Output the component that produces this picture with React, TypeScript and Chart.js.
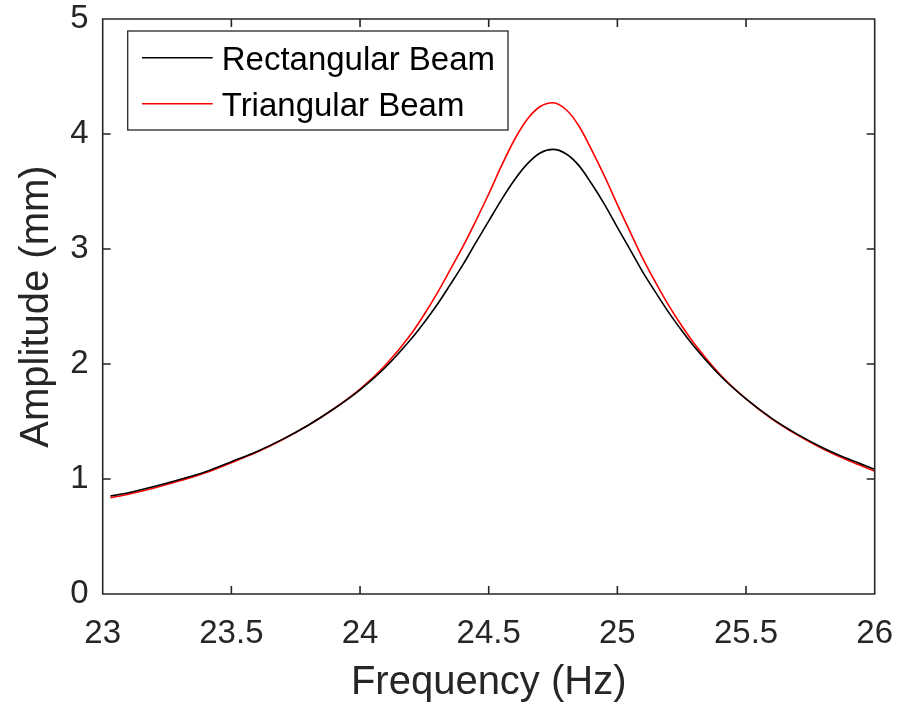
import React, { useEffect, useRef } from "react";
import { Chart, registerables } from "chart.js";

Chart.register(...registerables);

const frequencies = [
  23.03, 23.1, 23.2, 23.3, 23.4, 23.5, 23.6, 23.7, 23.8, 23.9, 24.0, 24.1, 24.2, 24.25,
  24.3, 24.35, 24.4, 24.45, 24.5, 24.55, 24.6, 24.65, 24.7, 24.75, 24.8, 24.85, 24.9,
  24.95, 25.0, 25.05, 25.1, 25.15, 25.2, 25.25, 25.3, 25.4, 25.5, 25.6, 25.7, 25.8, 25.9, 26.0,
];

const rectangularBeam = [
  0.852, 0.881, 0.934, 0.995, 1.063, 1.15, 1.24, 1.347, 1.47, 1.613, 1.776, 1.974, 2.221, 2.363,
  2.517, 2.688, 2.864, 3.055, 3.243, 3.43, 3.6, 3.74, 3.835, 3.866, 3.828, 3.727, 3.567,
  3.388, 3.188, 2.992, 2.795, 2.618, 2.447, 2.292, 2.148, 1.898, 1.696, 1.527, 1.388, 1.27, 1.171, 1.085,
];

const triangularBeam = [
  0.838, 0.868, 0.922, 0.985, 1.054, 1.142, 1.234, 1.343, 1.468, 1.613, 1.781, 1.994, 2.266, 2.433,
  2.617, 2.818, 3.022, 3.245, 3.478, 3.725, 3.95, 4.128, 4.239, 4.272, 4.213, 4.072, 3.862,
  3.633, 3.386, 3.147, 2.912, 2.703, 2.507, 2.332, 2.173, 1.906, 1.696, 1.523, 1.381, 1.26, 1.158, 1.069,
];

const seriesLabels = ["Rectangular Beam", "Triangular Beam"];
const seriesColors = ["#000000", "#ff0000"];

const xTitle = "Frequency (Hz)";
const yTitle = "Amplitude (mm)";

const FONT = "'Liberation Sans', Arial, Helvetica, sans-serif";
const AXIS_COLOR = "#262626";

const boxAndTicks = {
  id: "boxAndTicks",
  afterDatasetsDraw(chart: any) {
    const { ctx, chartArea } = chart;
    const { left, right, top, bottom } = chartArea;
    const xs = chart.scales.x;
    const ys = chart.scales.y;
    const tl = 8;
    ctx.save();
    ctx.strokeStyle = AXIS_COLOR;
    ctx.lineWidth = 1.6;
    ctx.beginPath();
    ctx.rect(left, top, right - left, bottom - top);
    xs.ticks.forEach((t: any) => {
      const px = xs.getPixelForValue(t.value);
      ctx.moveTo(px, bottom);
      ctx.lineTo(px, bottom - tl);
      ctx.moveTo(px, top);
      ctx.lineTo(px, top + tl);
    });
    ys.ticks.forEach((t: any) => {
      const py = ys.getPixelForValue(t.value);
      ctx.moveTo(left, py);
      ctx.lineTo(left + tl, py);
      ctx.moveTo(right, py);
      ctx.lineTo(right - tl, py);
    });
    ctx.stroke();
    ctx.restore();
  },
};

const insideLegend = {
  id: "insideLegend",
  afterDraw(chart: any) {
    const { ctx } = chart;
    const bx = 127.7;
    const by = 31;
    const bw = 380.3;
    const bh = 99;
    ctx.save();
    ctx.fillStyle = "#ffffff";
    ctx.fillRect(bx, by, bw, bh);
    ctx.strokeStyle = AXIS_COLOR;
    ctx.lineWidth = 1.3;
    ctx.strokeRect(bx, by, bw, bh);
    const rows = [57.7, 103.7];
    chart.data.datasets.forEach((ds: any, i: number) => {
      const y = rows[i];
      ctx.strokeStyle = ds.borderColor;
      ctx.lineWidth = 1.6;
      ctx.beginPath();
      ctx.moveTo(142, y);
      ctx.lineTo(212.7, y);
      ctx.stroke();
      ctx.fillStyle = "#000000";
      ctx.font = `33px ${FONT}`;
      ctx.textBaseline = "alphabetic";
      ctx.textAlign = "left";
      ctx.fillText(ds.label, 221.7, y + 12.7);
    });
    ctx.restore();
  },
};

const zeroPad = (scale: any) => {
  scale.paddingTop = 0;
  scale.paddingBottom = 0;
  scale.paddingLeft = 0;
  scale.paddingRight = 0;
};

export default function App() {
  const canvasRef = useRef<HTMLCanvasElement | null>(null);

  useEffect(() => {
    if (!canvasRef.current) return;
    const makeData = (vals: number[]) => frequencies.map((f, i) => ({ x: f, y: vals[i] }));
    const chart = new Chart(canvasRef.current, {
      type: "line",
      data: {
        datasets: [
          {
            label: seriesLabels[0],
            data: makeData(rectangularBeam),
            borderColor: seriesColors[0],
            backgroundColor: seriesColors[0],
            borderWidth: 1.6,
            pointRadius: 0,
            cubicInterpolationMode: "monotone",
          },
          {
            label: seriesLabels[1],
            data: makeData(triangularBeam),
            borderColor: seriesColors[1],
            backgroundColor: seriesColors[1],
            borderWidth: 1.6,
            pointRadius: 0,
            cubicInterpolationMode: "monotone",
          },
        ],
      },
      options: {
        animation: false,
        responsive: false,
        devicePixelRatio: 1,
        layout: { padding: { top: 19, right: 27.3, left: 0, bottom: 0 } },
        plugins: {
          legend: { display: false },
          tooltip: { enabled: false },
        },
        scales: {
          x: {
            type: "linear",
            min: 23,
            max: 26,
            grid: { display: false, drawTicks: false },
            border: { display: false },
            ticks: {
              stepSize: 0.5,
              color: AXIS_COLOR,
              font: { family: FONT, size: 33 },
              padding: 20,
              maxRotation: 0,
              autoSkip: false,
              callback: (v: any) => String(Number(v)),
            },
            title: {
              display: true,
              text: xTitle,
              color: AXIS_COLOR,
              font: { family: FONT, size: 40 },
              padding: { top: 0, bottom: 1 },
            },
            afterFit: (scale: any) => {
              scale.height = 114;
              zeroPad(scale);
            },
          },
          y: {
            type: "linear",
            min: 0,
            max: 5,
            grid: { display: false, drawTicks: false },
            border: { display: false },
            ticks: {
              stepSize: 1,
              color: AXIS_COLOR,
              font: { family: FONT, size: 33 },
              padding: 14,
              callback: (v: any) => String(Number(v)),
            },
            title: {
              display: true,
              text: yTitle,
              color: AXIS_COLOR,
              font: { family: FONT, size: 40 },
              padding: { top: 13, bottom: 0 },
            },
            afterFit: (scale: any) => {
              scale.width = 102.7;
              zeroPad(scale);
            },
          },
        },
      },
      plugins: [boxAndTicks, insideLegend],
    } as any);
    return () => chart.destroy();
  }, []);

  return (
    <div style={{ position: "absolute", left: 0, top: 0, width: 902, height: 708, background: "#ffffff" }}>
      <canvas ref={canvasRef} width={902} height={708} style={{ display: "block", width: 902, height: 708 }} />
    </div>
  );
}
